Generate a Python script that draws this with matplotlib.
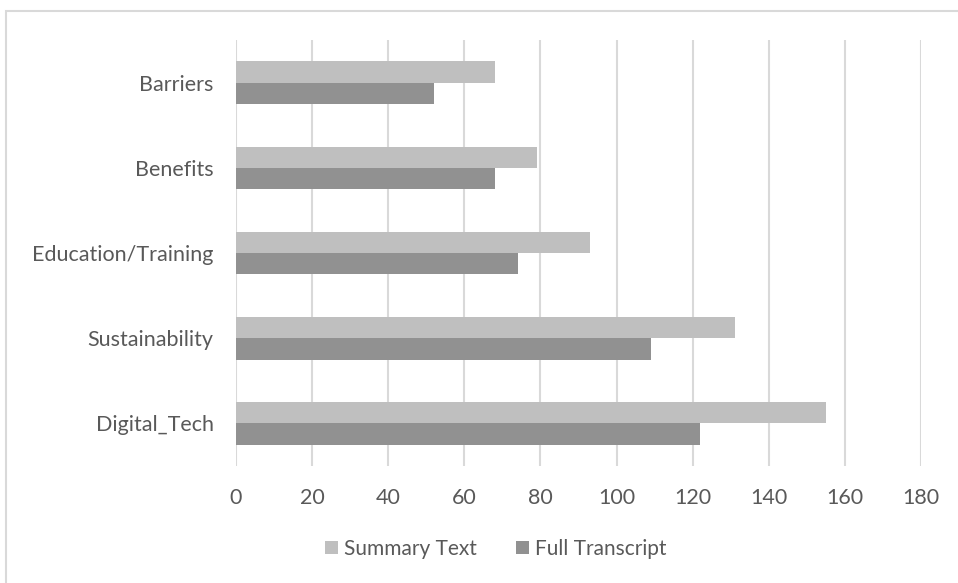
import numpy as np
import matplotlib.pyplot as plt
from matplotlib.patches import Rectangle

categories = ["Digital_Tech", "Sustainability", "Education/Training", "Benefits", "Barriers"]
summary_text = [155, 131, 93, 79, 68]
full_transcript = [122, 109, 74, 68, 52]
x_ticks = [0, 20, 40, 60, 80, 100, 120, 140, 160, 180]

plt.rcParams['font.family'] = ['Lato', 'DejaVu Sans']
text_color = "#595959"
grid_color = "#d9d9d9"

fig = plt.figure(figsize=(9.58, 5.83), dpi=100)
ax = fig.add_axes([236 / 958, 1 - 466 / 583, (921 - 236) / 958, (466 - 40) / 583])

y = np.arange(len(categories))
h = 0.25
ax.barh(y + h / 2, summary_text, height=h, color="#bfbfbf", label="Summary Text", zorder=3)
ax.barh(y - h / 2, full_transcript, height=h, color="#919191", label="Full Transcript", zorder=3)

ax.set_xlim(0, 180)
ax.set_ylim(-0.5, len(categories) - 0.5)
ax.set_xticks(x_ticks)
ax.set_yticks(y)
ax.set_yticklabels(categories)
ax.tick_params(axis="both", length=0, labelsize=15.5, colors=text_color)
ax.tick_params(axis="x", pad=16)
ax.tick_params(axis="y", pad=16)
ax.xaxis.grid(True, color=grid_color, linewidth=1.5, zorder=0)
for s in ax.spines.values():
    s.set_visible(False)

leg = fig.legend(loc="center", bbox_to_anchor=(496 / 958, 1 - 549 / 583), ncol=2, frameon=False,
                 fontsize=15, labelcolor=text_color, handlelength=0.6, handleheight=0.6,
                 handletextpad=0.3, columnspacing=1.9)

# light frame around the chart area
fig.add_artist(Rectangle((6 / 958, -0.05), 1.2, 1 - 11 / 583 + 0.05, transform=fig.transFigure,
                         fill=False, edgecolor="#d9d9d9", linewidth=1.5))

fig.savefig("out.png", dpi=100)
